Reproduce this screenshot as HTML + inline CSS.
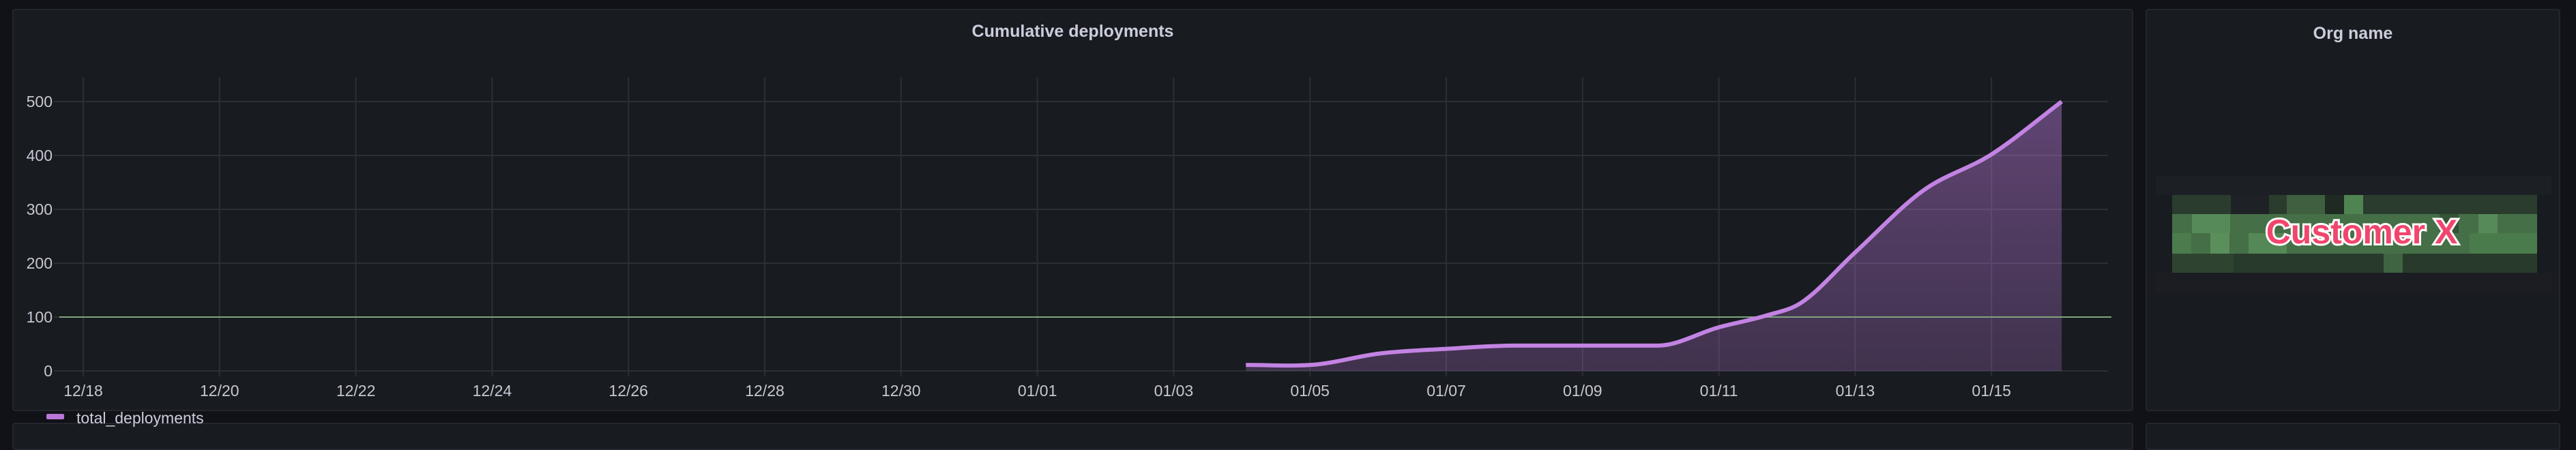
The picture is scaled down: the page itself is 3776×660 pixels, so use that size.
<!DOCTYPE html>
<html><head><meta charset="utf-8"><style>
html,body{margin:0;padding:0;background:#111217;width:3776px;height:630px;overflow:hidden;font-family:"Liberation Sans",sans-serif}
.panel{position:absolute;background:#181b1f;border:2px solid #23262c;border-radius:4px;box-sizing:border-box}
.title{position:absolute;left:0;right:0;text-align:center;color:#ccccdc;font-size:25px;font-weight:bold}
</style></head><body>
<div class="panel" style="left:18px;top:13px;width:3109px;height:590px"></div>
<div class="panel" style="left:3145px;top:13px;width:608px;height:590px">
  <div class="title" style="top:20px">Org name</div>
</div>
<div class="panel" style="left:18px;top:620px;width:3109px;height:40px"></div>
<div class="panel" style="left:3145px;top:620px;width:608px;height:40px"></div>
<div class="title" style="top:32px;left:18px;width:3109px;right:auto">Cumulative deployments</div>

<svg id="org" width="3776" height="630" style="position:absolute;left:0;top:0">
  <g>
    <rect x="3160" y="258" width="580" height="28" fill="#1c1f24"/>
    <rect x="3160" y="400" width="580" height="30" fill="#1b1d22"/>
    <rect x="3184" y="286" width="535" height="28" fill="#2a3c2d"/>
    <rect x="3184" y="314" width="535" height="58" fill="#456f47"/>
    <rect x="3184" y="372" width="535" height="28" fill="#283a2b"/>
    <rect x="3213" y="314" width="56" height="28" fill="#568a58"/>
    <rect x="3240" y="342" width="28" height="30" fill="#5a8f5c"/>
    <rect x="3184" y="342" width="28" height="30" fill="#4c7c4e"/>
    <rect x="3296" y="342" width="56" height="30" fill="#548856"/>
    <rect x="3352" y="286" width="56" height="28" fill="#3e6040"/>
    <rect x="3436" y="286" width="28" height="28" fill="#4f8351"/>
    <rect x="3270" y="286" width="56" height="28" fill="#1e2226"/>
    <rect x="3408" y="286" width="28" height="28" fill="#1f2a22"/>
    <rect x="3576" y="314" width="28" height="28" fill="#355337"/>
    <rect x="3620" y="342" width="99" height="30" fill="#4a7b4c"/>
    <rect x="3633" y="314" width="28" height="28" fill="#568a58"/>
    <rect x="3494" y="372" width="28" height="28" fill="#3f6441"/>
    <rect x="3184" y="372" width="90" height="28" fill="#2e4431"/>
  </g>
  <text x="3462" y="357" text-anchor="middle" font-family="Liberation Sans, sans-serif" font-weight="bold" font-size="50" fill="#f0466e" stroke="#ffffff" stroke-width="6" paint-order="stroke">Customer X</text>
</svg>

<svg id="chart" width="3776" height="630" style="position:absolute;left:0;top:0">
  <defs><linearGradient id="fillg" x1="0" y1="0" x2="0" y2="1">
    <stop offset="0" stop-color="#b877d9" stop-opacity="0.45"/>
    <stop offset="1" stop-color="#b877d9" stop-opacity="0.25"/>
  </linearGradient></defs>
</svg>

<script>
// Data
const dayOffsets = [17.06, 18.1, 19.0, 20.0, 21.0, 22.0, 23.1, 24.0, 24.7, 25.2, 26.0, 27.0, 28.0, 29.03];
const totalDeployments = [11, 12, 32, 41, 47, 47, 47, 81, 103, 126, 220, 335, 402, 500];
const xTickLabels = ["12/18","12/20","12/22","12/24","12/26","12/28","12/30","01/01","01/03","01/05","01/07","01/09","01/11","01/13","01/15"];
const xTickDays = [0,2,4,6,8,10,12,14,16,18,20,22,24,26,28];
const yTicks = [0,100,200,300,400,500];
const thresholdValue = [100];

const NS = "http://www.w3.org/2000/svg";
const svg = document.getElementById("chart");
const X0 = 122, DAY = 99.9, Y0 = 544, YS = (544-149)/500;
const PL = 67, PR = 3090, PT = 113;
const xs = d => X0 + d*DAY;
const ys = v => Y0 - v*YS;
function mk(tag, attrs){const e=document.createElementNS(NS,tag);for(const k in attrs)e.setAttribute(k,attrs[k]);svg.appendChild(e);return e;}

yTicks.forEach(v=>{
  const l = mk("line",{x1:PL+12,x2:PR,y1:ys(v),y2:ys(v),stroke:"#2c2f35","stroke-width":2});
  
  
  const t = mk("text",{x:77,y:ys(v)+8,"text-anchor":"end",fill:"#c7c7d4","font-size":23,"font-family":"Liberation Sans, sans-serif"});
  t.textContent=v;
  
  
});
xTickDays.forEach((d,i)=>{
  const l = mk("line",{x1:xs(d),x2:xs(d),y1:PT,y2:Y0+8,stroke:"#2c2f35","stroke-width":2});
  
  
  const t = mk("text",{x:xs(d),y:581,"text-anchor":"middle",fill:"#c7c7d4","font-size":23,"font-family":"Liberation Sans, sans-serif"});
  t.textContent=xTickLabels[i];
  
  
});

// monotone cubic path
const px = dayOffsets.map(xs), py = totalDeployments.map(ys);
const n = px.length, m = [], dl = [];
for(let i=0;i<n-1;i++) dl.push((py[i+1]-py[i])/(px[i+1]-px[i]));
for(let i=0;i<n;i++){
  if(i===0) m.push(dl[0]); else if(i===n-1) m.push(dl[n-2]);
  else m.push(dl[i-1]*dl[i]<=0?0:(dl[i-1]+dl[i])/2);
}
let d = `M${px[0]},${py[0]}`;
for(let i=0;i<n-1;i++){
  const h=(px[i+1]-px[i])/3;
  d += ` C${px[i]+h},${py[i]+m[i]*h} ${px[i+1]-h},${py[i+1]-m[i+1]*h} ${px[i+1]},${py[i+1]}`;
}
const area = mk("path",{d:d+` L${px[n-1]},${Y0} L${px[0]},${Y0} Z`,fill:"url(#fillg)"});



const th = mk("line",{x1:PL+20,x2:PR+5,y1:ys(thresholdValue[0]),y2:ys(thresholdValue[0]),stroke:"#7fa57f","stroke-width":2});



const line = mk("path",{d:d,fill:"none",stroke:"#c283e3","stroke-width":6,"stroke-linejoin":"round"});



const sw = mk("rect",{x:68,y:607,width:26,height:8,rx:2,fill:"#b877d9"});


const lt = mk("text",{x:112,y:621,fill:"#ccccdc","font-size":23,"font-family":"Liberation Sans, sans-serif"});
lt.textContent="total_deployments";


</script>
</body></html>
